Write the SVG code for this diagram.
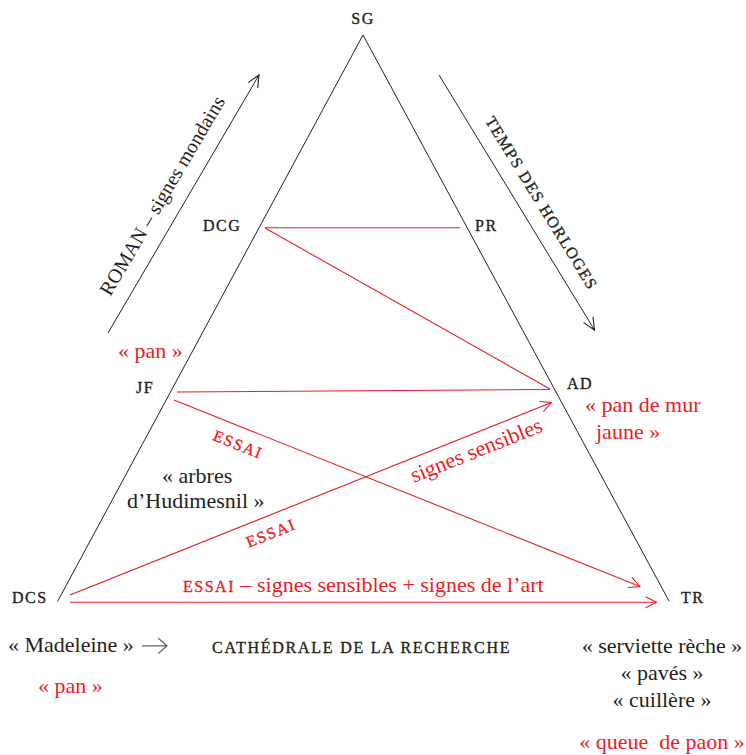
<svg xmlns="http://www.w3.org/2000/svg" width="746" height="755" viewBox="0 0 746 755">
<defs>
<style>
.sc{font-family:"Liberation Serif",serif;font-size:16px;letter-spacing:1.5px;fill:#231f20;stroke:#231f20;stroke-width:0.35px}
.t{font-family:"Liberation Serif",serif;font-size:22px;fill:#231f20}
.r{fill:#ec1c24}
.sc.r{fill:#ec1c24;stroke:#ec1c24}
.k{stroke:#231f20;stroke-width:1;fill:none}
.rk{stroke:#ec1c24;stroke-width:1.1;fill:none}
</style>
<marker id="ab" markerUnits="userSpaceOnUse" orient="auto" markerWidth="16" markerHeight="14" refX="0" refY="0" viewBox="-13 -7 16 14" overflow="visible">
<path d="M-12,-5.5 L0,0 L-12,5.5" stroke="#231f20" stroke-width="1.1" fill="none"/>
</marker>
<marker id="ar" markerUnits="userSpaceOnUse" orient="auto" markerWidth="16" markerHeight="14" refX="0" refY="0" viewBox="-13 -7 16 14" overflow="visible">
<path d="M-11,-5.5 L0,0 L-11,5.5" stroke="#ec1c24" stroke-width="1.1" fill="none"/>
</marker>
</defs>
<rect width="746" height="755" fill="#fff"/>

<g id="connectors">
<path class="k" d="M57.5,601.5 L363,35 L669,601"/>
<path class="rk" d="M265,227.8 L460,227.8"/>
<path class="rk" d="M265,228 L550,389"/>
<path class="rk" d="M177,392 L550,389.5"/>
<path class="rk" d="M174,400 L640,586.5" marker-end="url(#ar)"/>
<path class="rk" d="M70,595 L551.5,402.5" marker-end="url(#ar)"/>
<path class="rk" d="M70,602.3 L656.5,602.3" marker-end="url(#ar)"/>
</g>

<g id="annotations">
<path class="k" d="M108,333 L259,75" marker-end="url(#ab)"/>
<text class="t" text-anchor="middle" transform="translate(168,199) rotate(-59.5)" style="font-size:20px">ROMAN – signes mondains</text>
<path class="k" d="M439,75 L594.5,330" marker-end="url(#ab)"/>
<text class="sc" text-anchor="middle" transform="translate(537,206) rotate(58.5)" textLength="200">TEMPS DES HORLOGES</text>
<text class="sc r" text-anchor="middle" transform="translate(236,449.5) rotate(21.8)">ESSAI</text>
<text class="sc r" text-anchor="middle" transform="translate(273,538.2) rotate(-21.7)">ESSAI</text>
<text class="t r" text-anchor="middle" transform="translate(479,457) rotate(-21.7)">signes sensibles</text>
<text class="t r" x="183" y="592"><tspan class="sc r">ESSAI</tspan> – signes sensibles + signes de l’art</text>
<text class="t" x="162" y="483">« arbres</text>
<text class="t" x="127" y="508">d’Hudimesnil »</text>
<text class="t r" x="118" y="358">« pan »</text>
<text class="t r" x="585" y="412">« pan de mur</text>
<text class="t r" x="596" y="439">jaune »</text>
</g>

<g id="SG"><text class="sc" x="363" y="24" text-anchor="middle">SG</text></g>
<g id="DCG"><text class="sc" x="203" y="231">DCG</text></g>
<g id="PR"><text class="sc" x="475" y="231">PR</text></g>
<g id="JF"><text class="sc" x="136" y="393">JF</text></g>
<g id="AD"><text class="sc" x="567" y="389">AD</text></g>
<g id="DCS"><text class="sc" x="12" y="603">DCS</text></g>
<g id="TR"><text class="sc" x="681" y="603">TR</text></g>

<g id="bottom">
<text class="t" x="8" y="652">« Madeleine »</text>
<path d="M142,645.8 L167,645.8 M158.3,638.3 L167,645.8 L158.3,653.5" stroke="#666" stroke-width="1.3" fill="none"/>
<text class="sc" x="212" y="653" textLength="299">CATHÉDRALE DE LA RECHERCHE</text>
<text class="t r" x="38" y="693">« pan »</text>
<text class="t" x="662" y="653" text-anchor="middle">« serviette rèche »</text>
<text class="t" x="662" y="680" text-anchor="middle">« pavés »</text>
<text class="t" x="662" y="707" text-anchor="middle">« cuillère »</text>
<text class="t r" x="662" y="749" text-anchor="middle" xml:space="preserve">« queue  de paon »</text>
</g>
</svg>
